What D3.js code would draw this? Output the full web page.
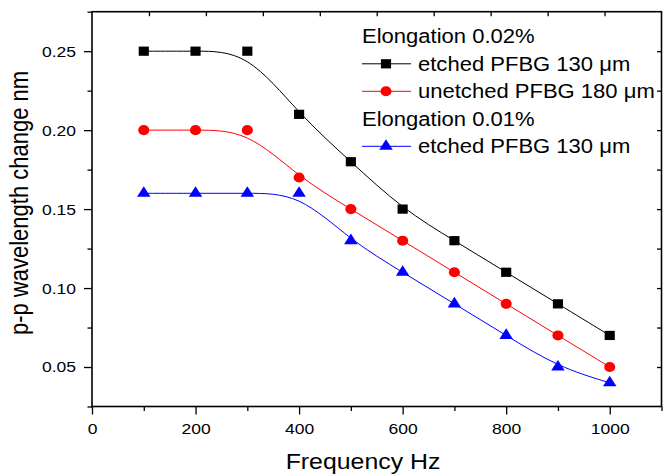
<!DOCTYPE html>
<html><head><meta charset="utf-8">
<script src="https://cdn.jsdelivr.net/npm/d3@7"></script>
<style>
body{margin:0;background:#fff}
text{font-family:"Liberation Sans",Arial,sans-serif;fill:#000}
</style>
</head><body>
<svg id="c" width="663" height="475"></svg>
<script>
// ---- data ----
const freq = [100, 200, 300, 400, 500, 600, 700, 800, 900, 1000];
const etched002 = [0.25, 0.25, 0.25, 0.21, 0.18, 0.15, 0.13, 0.11, 0.09, 0.07];
const unetched002 = [0.20, 0.20, 0.20, 0.17, 0.15, 0.13, 0.11, 0.09, 0.07, 0.05];
const etched001 = [0.16, 0.16, 0.16, 0.16, 0.13, 0.11, 0.09, 0.07, 0.05, 0.04];
const xTickValues = [0, 200, 400, 600, 800, 1000];
const xMinorValues = [100, 300, 500, 700, 900, 1100];
const yTickValues = [0.05, 0.10, 0.15, 0.20, 0.25];
const yMinorValues = [0.025, 0.075, 0.125, 0.175, 0.225, 0.275];
const topTickValues = [100, 200, 300, 400, 500, 600, 700, 800, 900];
const seriesNames = ["etched PFBG 130 \u03bcm", "unetched PFBG 180 \u03bcm", "etched PFBG 130 \u03bcm"];
const groupNames = ["Elongation 0.02%", "Elongation 0.01%"];
const xTitle = "Frequency Hz";
const yTitle = "p-p wavelength change nm";

// ---- layout ----
const SX = 1.13; // horizontal stretch of the reference
const L = 92, R = 661.5, T = 11.7, B = 406.5;
const svg = d3.select("#c");
const x = d3.scaleLinear([0, 1100], [L, R]);
const xTop = d3.scaleLinear([0, 1000], [L, R]);
const y = d3.scaleLinear([0.025, 0.275], [B, T]);

const series = [
  {vals: etched002, color: "#000000", sym: d3.symbolSquare, size: 85},
  {vals: unetched002, color: "#ff0000", sym: d3.symbolCircle, size: 80},
  {vals: etched001, color: "#0000ff", sym: d3.symbolTriangle, size: 65}
];

// ---- axes ----
const tickStyle = g => { g.select(".domain").remove(); g.selectAll("line").attr("stroke", "#000").attr("stroke-width", 1.3); };

svg.append("g").attr("transform", `translate(0,${B})`)
  .call(d3.axisBottom(x).tickValues(xTickValues).tickSize(8).tickFormat(d3.format("d")))
  .call(tickStyle)
  .call(g => g.selectAll("text").attr("y", 16.5).attr("font-size", 15.5)
        .attr("transform", `scale(${SX},1)`).style("font-family", '"Liberation Sans",Arial,sans-serif'));
svg.append("g").attr("transform", `translate(0,${B})`)
  .call(d3.axisBottom(x).tickValues(xMinorValues).tickSize(4.5).tickFormat(""))
  .call(tickStyle);

svg.append("g").attr("transform", `translate(${L},0)`)
  .call(d3.axisLeft(y).tickValues(yTickValues).tickSize(8).tickFormat(d3.format(".2f")))
  .call(tickStyle)
  .call(g => g.selectAll("text").attr("x", -14.2).attr("font-size", 15.5)
        .attr("transform", `scale(${SX},1)`).style("font-family", '"Liberation Sans",Arial,sans-serif'));
svg.append("g").attr("transform", `translate(${L},0)`)
  .call(d3.axisLeft(y).tickValues(yMinorValues).tickSize(4.5).tickFormat(""))
  .call(tickStyle);

// top axis (inward ticks)
svg.append("g").attr("transform", `translate(0,${T})`)
  .call(d3.axisBottom(xTop).tickValues(topTickValues).tickSize(4.5).tickFormat(""))
  .call(tickStyle);
// right axis (inward ticks)
svg.append("g").attr("transform", `translate(${R},0)`)
  .call(d3.axisLeft(y).tickValues(yTickValues.concat(yMinorValues.slice(1, 5))).tickSize(4.5).tickFormat(""))
  .call(tickStyle);

// frame
svg.append("rect").attr("x", L).attr("y", T).attr("width", R - L).attr("height", B - T)
  .attr("fill", "none").attr("stroke", "#000").attr("stroke-width", 1.6);

// titles
svg.append("text").attr("transform", `translate(363,469) scale(${SX},1)`)
  .attr("text-anchor", "middle").attr("font-size", 22).text(xTitle);
svg.append("text").attr("transform", `translate(28,203) scale(${SX},1) rotate(-90)`)
  .attr("text-anchor", "middle").attr("font-size", 22).text(yTitle);

// ---- series ----
const line = d3.line().curve(d3.curveBasis).x((d, i) => x(freq[i])).y(d => y(d));
series.forEach(s => {
  svg.append("path").datum(s.vals).attr("d", line)
    .attr("fill", "none").attr("stroke", s.color).attr("stroke-width", 1);
  svg.append("g").selectAll("path").data(s.vals).join("path")
    .attr("d", d3.symbol(s.sym, s.size))
    .attr("transform", (d, i) => `translate(${x(freq[i])},${y(d)}) scale(1.1,1)`)
    .attr("fill", s.color);
});

// ---- legend ----
const lg = svg.append("g");
const rows = [
  {type: "head", text: groupNames[0]},
  {type: "ser", s: 0, text: seriesNames[0]},
  {type: "ser", s: 1, text: seriesNames[1]},
  {type: "head", text: groupNames[1]},
  {type: "ser", s: 2, text: seriesNames[2]}
];
rows.forEach((r, i) => {
  const base = 43.3 + i * 27.5;
  const cy = base - 7;
  if (r.type === "head") {
    lg.append("text").attr("transform", `translate(362,${base}) scale(${SX},1)`)
      .attr("font-size", 19.5).text(r.text);
  } else {
    const s = series[r.s];
    lg.append("line").attr("x1", 362).attr("x2", 411).attr("y1", cy).attr("y2", cy)
      .attr("stroke", s.color).attr("stroke-width", 1);
    lg.append("path").attr("d", d3.symbol(s.sym, s.size))
      .attr("transform", `translate(386,${cy}) scale(1.1,1)`).attr("fill", s.color);
    lg.append("text").attr("transform", `translate(418,${base}) scale(${SX},1)`)
      .attr("font-size", 19.5).text(r.text);
  }
});
</script>
</body></html>
